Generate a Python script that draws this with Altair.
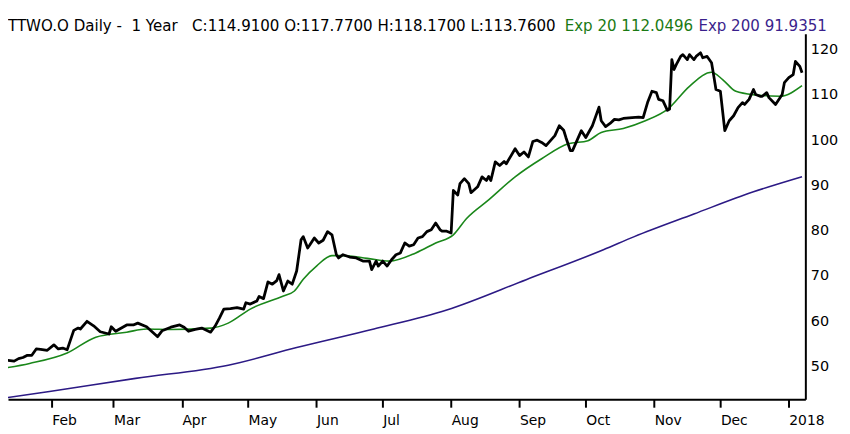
import altair as alt
import pandas as pd

# ---- data ----
close_dates = [
    "2017-01-10", "2017-01-12", "2017-01-15", "2017-01-17", "2017-01-19", "2017-01-21",
    "2017-01-23", "2017-01-25", "2017-01-27", "2017-01-30", "2017-02-02", "2017-02-04",
    "2017-02-06", "2017-02-08", "2017-02-11", "2017-02-13", "2017-02-14", "2017-02-17",
    "2017-02-20", "2017-02-23", "2017-02-27", "2017-02-28", "2017-03-02", "2017-03-07",
    "2017-03-10", "2017-03-12", "2017-03-16", "2017-03-18", "2017-03-21", "2017-03-23",
    "2017-03-27", "2017-03-31", "2017-04-02", "2017-04-04", "2017-04-07", "2017-04-10",
    "2017-04-14", "2017-04-16", "2017-04-18", "2017-04-20", "2017-04-23", "2017-04-26",
    "2017-04-29", "2017-04-30", "2017-05-02", "2017-05-05", "2017-05-06", "2017-05-08",
    "2017-05-10", "2017-05-12", "2017-05-14", "2017-05-15", "2017-05-17", "2017-05-19",
    "2017-05-21", "2017-05-23", "2017-05-25", "2017-05-26", "2017-05-28", "2017-05-29",
    "2017-05-31", "2017-06-02", "2017-06-04", "2017-06-06", "2017-06-08", "2017-06-10",
    "2017-06-11", "2017-06-13", "2017-06-16", "2017-06-19", "2017-06-22", "2017-06-25",
    "2017-06-26", "2017-06-28", "2017-06-29", "2017-07-01", "2017-07-03", "2017-07-05",
    "2017-07-07", "2017-07-09", "2017-07-11", "2017-07-13", "2017-07-15", "2017-07-17",
    "2017-07-19", "2017-07-21", "2017-07-23", "2017-07-25", "2017-07-27", "2017-07-28",
    "2017-07-30", "2017-08-01", "2017-08-02", "2017-08-04", "2017-08-05", "2017-08-07",
    "2017-08-09", "2017-08-10", "2017-08-13", "2017-08-15", "2017-08-17", "2017-08-18",
    "2017-08-19", "2017-08-21", "2017-08-23", "2017-08-25", "2017-08-26", "2017-08-30",
    "2017-09-01", "2017-09-03", "2017-09-05", "2017-09-07", "2017-09-09", "2017-09-11",
    "2017-09-13", "2017-09-17", "2017-09-19", "2017-09-21", "2017-09-22", "2017-09-24",
    "2017-09-25", "2017-09-27", "2017-09-29", "2017-10-01", "2017-10-04", "2017-10-07",
    "2017-10-08", "2017-10-10", "2017-10-12", "2017-10-14", "2017-10-16", "2017-10-18",
    "2017-10-22", "2017-10-25", "2017-10-27", "2017-10-29", "2017-10-31", "2017-11-02",
    "2017-11-03", "2017-11-05", "2017-11-07", "2017-11-08", "2017-11-09", "2017-11-10",
    "2017-11-11", "2017-11-13", "2017-11-14", "2017-11-16", "2017-11-17", "2017-11-19",
    "2017-11-20", "2017-11-22", "2017-11-23", "2017-11-25", "2017-11-27", "2017-11-28",
    "2017-11-29", "2017-12-01", "2017-12-03", "2017-12-05", "2017-12-07", "2017-12-09",
    "2017-12-11", "2017-12-12", "2017-12-14", "2017-12-16", "2017-12-17", "2017-12-19",
    "2017-12-20", "2017-12-22", "2017-12-23", "2017-12-26", "2017-12-29", "2017-12-30",
    "2018-01-01", "2018-01-03", "2018-01-04", "2018-01-06", "2018-01-07",
]
close_values = [
    50.7, 51.4, 51.2, 51.75, 52.0, 52.5,
    52.5, 53.9, 53.8, 53.6, 54.8, 53.9,
    54.1, 53.7, 58.0, 58.5, 58.3, 60.0,
    59.0, 57.7, 57.2, 58.8, 57.8, 59.2,
    59.2, 59.6, 58.8, 57.9, 56.6, 57.9,
    58.7, 59.2, 58.7, 57.8, 58.2, 58.5,
    57.6, 58.9, 60.7, 62.7, 62.8, 63.0,
    62.7, 64.1, 63.8, 64.5, 65.5, 65.0,
    68.7, 68.2, 69.0, 70.3, 66.7, 68.9,
    68.2, 71.1, 78.0, 78.7, 76.2, 76.9,
    78.4, 77.3, 77.9, 79.8, 79.1, 74.7,
    74.0, 74.7, 74.2, 74.0, 73.3, 73.3,
    71.4, 73.3, 72.2, 73.3, 72.2, 73.6,
    74.7, 75.1, 77.3, 76.6, 76.9, 78.4,
    78.7, 79.8, 80.2, 81.7, 80.2, 79.9,
    79.9, 79.5, 88.9, 87.9, 90.4, 91.5,
    90.4, 88.4, 89.7, 91.9, 91.1, 92.0,
    91.1, 95.2, 94.4, 95.3, 94.8, 98.1,
    96.6, 97.4, 96.3, 99.7, 100.0, 99.5,
    98.8, 101.0, 103.2, 102.2, 100.6, 97.7,
    97.7, 99.9, 102.1, 100.6, 103.2, 107.3,
    104.3, 103.0, 103.7, 104.6, 104.5, 104.8,
    105.0, 105.1, 105.0, 108.3, 110.8, 110.5,
    109.0, 108.7, 106.6, 106.9, 117.8, 115.6,
    116.7, 118.5, 118.9, 117.8, 118.9, 117.8,
    118.5, 119.3, 118.2, 118.5, 117.1, 114.2,
    111.2, 110.8, 102.1, 104.3, 105.4, 107.2,
    108.3, 107.9, 109.0, 111.2, 110.1, 109.7,
    109.7, 110.5, 109.4, 107.9, 110.1, 112.7,
    113.8, 114.5, 117.4, 116.3, 114.91,
]

ema20_dates = [
    "2017-01-10", "2017-01-22", "2017-02-08", "2017-02-21", "2017-03-07", "2017-03-16",
    "2017-03-27", "2017-04-14", "2017-04-22", "2017-05-02", "2017-05-17", "2017-05-22",
    "2017-05-26", "2017-06-01", "2017-06-08", "2017-06-13", "2017-06-24", "2017-07-04",
    "2017-07-16", "2017-07-25", "2017-08-02", "2017-08-08", "2017-08-18", "2017-08-30",
    "2017-09-11", "2017-09-23", "2017-10-02", "2017-10-08", "2017-10-18", "2017-10-28",
    "2017-11-07", "2017-11-17", "2017-11-27", "2017-12-02", "2017-12-08", "2017-12-17",
    "2017-12-28", "2018-01-07",
]
ema20_values = [
    49.6, 50.7, 53.0, 56.5, 57.6, 58.3,
    58.2, 58.5, 59.6, 62.7, 65.6, 66.7,
    69.3, 72.2, 74.5, 74.5, 73.9, 73.3,
    75.1, 77.3, 79.1, 82.7, 86.8, 91.9,
    95.9, 99.2, 99.9, 101.7, 102.6, 104.3,
    106.8, 111.9, 115.0, 113.4, 110.8, 110.0,
    109.7, 112.0496,
]

ema200_dates = [
    "2017-01-10", "2017-01-31", "2017-03-11", "2017-04-22", "2017-05-23", "2017-06-27",
    "2017-07-30", "2017-09-04", "2017-10-09", "2017-10-23", "2017-11-19", "2017-12-16",
    "2018-01-07",
]
ema200_values = [
    43.0, 44.5, 47.4, 50.3, 54.2, 58.3,
    62.5, 69.2, 75.8, 78.7, 83.7, 88.6,
    91.9351,
]

y_tick_values = [50, 60, 70, 80, 90, 100, 110, 120]

NB = "\u00a0"
title_black = f"TTWO.O Daily -{NB}{NB}1 Year{NB}{NB}{NB}C:114.9100 O:117.7700 H:118.1700 L:113.7600"
title_green = "Exp 20 112.0496"
title_purple = "Exp 200 91.9351"

BLACK = "#000000"
GREEN = "#1a871a"
GREEN_TXT = "#1b7a14"
PURPLE = "#2c1a85"
PURPLE_TXT = "#3a1f8c"
FONT = "DejaVu Sans"

W, H = 805, 369

close_df = pd.DataFrame({"date": close_dates, "value": close_values})
ema20_df = pd.DataFrame({"date": ema20_dates, "value": ema20_values})
ema200_df = pd.DataFrame({"date": ema200_dates, "value": ema200_values})

label_expr = ("utcFormat(datum.value, '%m') == '01' ? utcFormat(datum.value, '%Y') "
              ": utcFormat(datum.value, '%b')")

x_enc = alt.X(
    "date:T",
    scale=alt.Scale(
        type="utc",
        domain=[
            alt.DateTime(year=2017, month=1, date=12, hours=5, utc=True),
            alt.DateTime(year=2018, month=1, date=8, hours=12, utc=True),
        ],
    ),
    axis=alt.Axis(
        title=None,
        orient="bottom",
        tickCount=alt.TimeIntervalStep(interval="month", step=1),
        labelExpr=label_expr,
        labelAlign="left",
        labelBaseline="top",
        labelPadding=6,
        labelFlush=False,
        labelOverlap=False,
        labelFont=FONT,
        labelFontSize=14,
        labelColor=BLACK,
        tickSize=8,
        tickWidth=2,
        tickColor=BLACK,
        domainColor=BLACK,
        domainWidth=2,
        grid=False,
    ),
)

y_enc = alt.Y(
    "value:Q",
    scale=alt.Scale(domain=[42.78, 123.5], nice=False, zero=False),
    axis=alt.Axis(
        title=None,
        orient="right",
        values=y_tick_values,
        ticks=False,
        labelPadding=5,
        labelFont=FONT,
        labelFontSize=14.5,
        labelColor=BLACK,
        domainColor=BLACK,
        domainWidth=2,
        grid=False,
    ),
)

close_line = alt.Chart(close_df).mark_line(
    color=BLACK, strokeWidth=2.8, strokeJoin="round", clip=True
).encode(x=x_enc, y=y_enc)

ema20_line = alt.Chart(ema20_df).mark_line(
    color=GREEN, strokeWidth=1.6, interpolate="monotone", clip=True
).encode(x="date:T", y="value:Q")

ema200_line = alt.Chart(ema200_df).mark_line(
    color=PURPLE, strokeWidth=1.6, interpolate="monotone", clip=True
).encode(x="date:T", y="value:Q")

def title_piece(text, color, xpos):
    return alt.Chart(alt.Data(values=[{"t": text}])).mark_text(
        align="left", baseline="alphabetic", font=FONT, fontSize=15.2, color=color
    ).encode(text="t:N", x=alt.value(xpos), y=alt.value(-3))

chart = alt.layer(
    ema200_line,
    ema20_line,
    close_line,
    title_piece(title_black, BLACK, 0),
    title_piece(title_green, GREEN_TXT, 562),
    title_piece(title_purple, PURPLE_TXT, 697),
).properties(
    width=W,
    height=H,
    autosize=alt.AutoSizeParams(type="none"),
    padding={"left": 0, "top": 24, "right": 37, "bottom": 30},
    background="white",
).configure_view(stroke=None)

chart.save("out.html", embed_options={"renderer": "svg", "actions": False})
